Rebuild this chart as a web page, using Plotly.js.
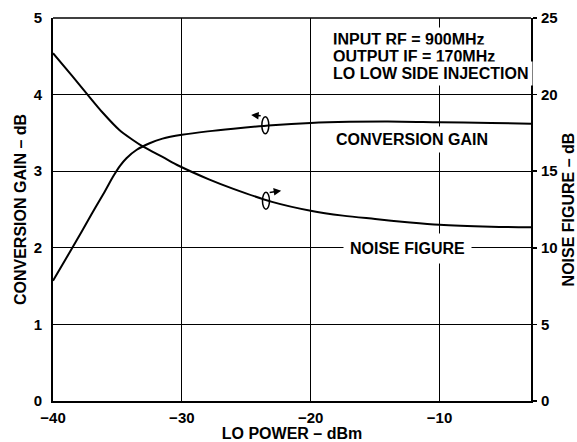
<!DOCTYPE html>
<html>
<head>
<meta charset="utf-8">
<script src="https://cdn.plot.ly/plotly-3.0.1.min.js"></script>
<style>html,body{margin:0;padding:0;background:#fff;}#chart{width:577px;height:442px;}</style>
</head>
<body>
<div id="chart"></div>
<script>
// LO power (dBm) and conversion gain (dB, left axis)
const gainX = [-40, -38.5, -37, -36, -35.3, -34.8, -34.3, -33.5, -32.5, -31.5, -30, -28, -26, -23, -20, -17, -14, -10, -6, -2.9];
const gainY = [1.57, 2.0, 2.44, 2.73, 2.94, 3.07, 3.17, 3.28, 3.365, 3.425, 3.475, 3.52, 3.555, 3.60, 3.63, 3.645, 3.65, 3.64, 3.63, 3.62];
// LO power (dBm) and noise figure (dB, right axis)
const nfX = [-40, -38.5, -37.4, -36.1, -34.85, -33.8, -33, -31.5, -30.2, -27.9, -26, -23, -20, -17.5, -15, -12.5, -10, -6, -2.9];
const nfY = [22.7, 21.2, 20.08, 18.78, 17.69, 17.04, 16.6, 15.93, 15.34, 14.47, 13.85, 13.0, 12.42, 12.1, 11.88, 11.67, 11.5, 11.38, 11.34];

const xTicks = [-40, -30, -20, -10];
const xRange = [-40, -2.9];
const gainTicks = [0, 1, 2, 3, 4, 5];
const nfTicks = [0, 5, 10, 15, 20, 25];

const noteLines = ["INPUT RF = 900MHz", "OUTPUT IF = 170MHz", "LO LOW SIDE INJECTION"];
const gainLabel = "CONVERSION GAIN";
const nfLabel = "NOISE FIGURE";

const FONT = "'Liberation Sans', Arial, Helvetica, sans-serif";
const f = (s) => ({family: FONT, size: s, color: '#000', weight: 'bold'});

const traces = [
  {x: gainX, y: gainY, type: 'scatter', mode: 'lines', yaxis: 'y',
   line: {color: '#000', width: 2, shape: 'spline', smoothing: 0.9}, hoverinfo: 'skip'},
  {x: nfX, y: nfY, type: 'scatter', mode: 'lines', yaxis: 'y2',
   line: {color: '#000', width: 2, shape: 'spline', smoothing: 0.9}, hoverinfo: 'skip'}
];

const annotations = [];
noteLines.forEach((t, i) => {
  annotations.push({xref: 'paper', yref: 'paper', x: (329 - 53) / 478, y: 1 - (39.5 + i * 17.2 - 18) / 383,
    xanchor: 'left', yanchor: 'middle', text: t, showarrow: false, font: f(16),
    bgcolor: '#fff', borderpad: 3});
});
annotations.push({xref: 'x', yref: 'y', x: -12.15, y: 3.41, text: gainLabel, showarrow: false,
  font: f(16), bgcolor: '#fff', borderpad: 4, xanchor: 'center', yanchor: 'middle'});
annotations.push({xref: 'x', yref: 'y', x: -12.45, y: 1.985, text: nfLabel, showarrow: false,
  font: f(16), bgcolor: '#fff', borderpad: 6, xanchor: 'center', yanchor: 'middle'});
// direction arrows
annotations.push({xref: 'x', yref: 'y', x: -24.62, y: 3.734, ax: 11, ay: 1, axref: 'pixel', ayref: 'pixel',
  text: '', showarrow: true, arrowhead: 2, arrowsize: 1, arrowwidth: 1.5, arrowcolor: '#000'});
annotations.push({xref: 'x', yref: 'y2', x: -22.29, y: 13.73, ax: -13, ay: 2, axref: 'pixel', ayref: 'pixel',
  text: '', showarrow: true, arrowhead: 2, arrowsize: 1, arrowwidth: 1.5, arrowcolor: '#000'});

const shapes = [
  {type: 'circle', xref: 'x', yref: 'y', xsizemode: 'pixel', ysizemode: 'pixel',
   xanchor: -23.52, yanchor: 3.60, x0: -3.5, x1: 3.5, y0: -8.5, y1: 8.5,
   line: {color: '#000', width: 1.5}, fillcolor: 'rgba(0,0,0,0)'},
  {type: 'circle', xref: 'x', yref: 'y2', xsizemode: 'pixel', ysizemode: 'pixel',
   xanchor: -23.47, yanchor: 13.07, x0: -3.5, x1: 3.5, y0: -8.5, y1: 8.5,
   line: {color: '#000', width: 1.5}, fillcolor: 'rgba(0,0,0,0)'},
  // top frame line (thinner)
  {type: 'line', xref: 'paper', yref: 'paper', x0: 0, x1: 1, y0: 1, y1: 1, line: {color: '#000', width: 1.5}}
];

const layout = {
  width: 577, height: 442,
  margin: {l: 53, r: 46, t: 18, b: 41, pad: 0},
  paper_bgcolor: '#fff', plot_bgcolor: '#fff',
  showlegend: false,
  font: f(15),
  xaxis: {
    range: xRange, tickvals: xTicks, ticks: '', showgrid: true, gridcolor: '#000', gridwidth: 1,
    zeroline: false, showline: true, linecolor: '#000', linewidth: 2, mirror: false,
    tickfont: f(15), ticklabelstandoff: 2,
    title: {text: 'LO POWER – dBm', font: f(16), standoff: 1}
  },
  yaxis: {
    range: [0, 5], tickvals: gainTicks, ticks: '', showgrid: true, gridcolor: '#000', gridwidth: 1,
    zeroline: false, showline: true, linecolor: '#000', linewidth: 2,
    tickfont: f(15), ticklabelstandoff: 6,
    title: {text: 'CONVERSION GAIN – dB', font: f(16), standoff: 3}
  },
  yaxis2: {
    range: [0, 25], tickvals: nfTicks, overlaying: 'y', side: 'right', ticks: 'outside', ticklen: 4,
    tickwidth: 1.5, tickcolor: '#000', showgrid: false, zeroline: false, showline: true,
    linecolor: '#000', linewidth: 2, tickfont: f(15), ticklabelstandoff: 1,
    title: {text: 'NOISE FIGURE – dB', font: f(16), standoff: 8}
  },
  annotations: annotations,
  shapes: shapes
};

Plotly.newPlot('chart', traces, layout, {staticPlot: true, displayModeBar: false});
</script>
</body>
</html>
